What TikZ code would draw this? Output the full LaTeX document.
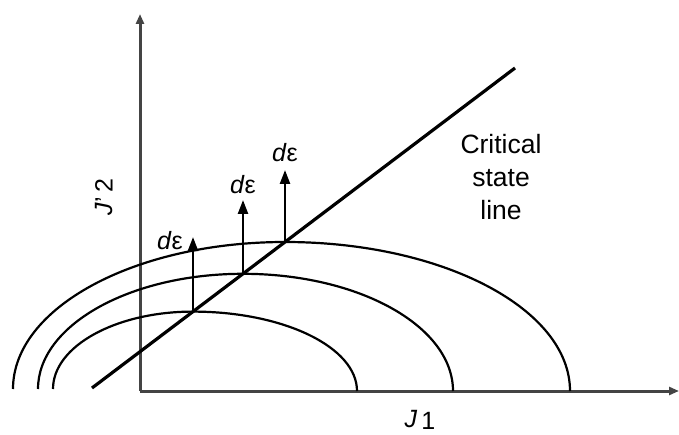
\documentclass[tikz,border=0pt]{standalone}
\usepackage{fontspec}
\setmainfont{Liberation Sans}
\usetikzlibrary{arrows.meta}
\definecolor{axisgray}{HTML}{444444}
\tikzset{
  axisline/.style={draw=axisgray, line width=3pt, -{Triangle[length=10pt,width=8pt]}},
  cslline/.style={draw=black, line width=3.2pt},
  yieldarc/.style={draw=black, line width=2.2pt},
  flowarrow/.style={draw=black, line width=2.4pt, -{Triangle[length=14pt,width=10pt]}},
  smalllabel/.style={font=\fontsize{25}{30}\selectfont, inner sep=0pt},
  biglabel/.style={font=\fontsize{26.5}{33}\selectfont, align=center, inner sep=0pt}
}
\begin{document}
\begin{tikzpicture}[x=1pt,y=1pt]
\useasboundingbox (0,0) rectangle (679,434);
% axes
\coordinate (O) at (140,43);
\coordinate (ytop) at (140,420);
\coordinate (xend) at (679,43);
\draw[axisline] (O) -- (ytop);
\draw[axisline] (O) -- (xend);
% yield surfaces
\draw[yieldarc] (53,45) arc[start angle=180, end angle=90, x radius=140, y radius=77.4]
                       arc[start angle=90, end angle=0, x radius=164, y radius=79.4];
\draw[yieldarc] (38,45) arc[start angle=180, end angle=90, x radius=205, y radius=115.2]
                       arc[start angle=90, end angle=0, x radius=210, y radius=117.2];
\draw[yieldarc] (13,45) arc[start angle=180, end angle=90, x radius=272, y radius=147]
                       arc[start angle=90, end angle=0, x radius=285, y radius=149];
% critical state line
\coordinate (c1) at (92,46);
\coordinate (c2) at (515,366);
\draw[cslline] (c1) -- (c2);
% intersection points and arrow tips
\coordinate (p1) at (193,122.4);
\coordinate (p2) at (243,160.2);
\coordinate (p3) at (285,192);
\coordinate (t1) at (193,197);
\coordinate (t2) at (243,234);
\coordinate (t3) at (285,264);
\draw[flowarrow] (p1) -- (t1);
\draw[flowarrow] (p2) -- (t2);
\draw[flowarrow] (p3) -- (t3);
% labels
\node[smalllabel] (de1) at (170,193) {\textit{d}ε};
\node[smalllabel] (de2) at (243,249) {\textit{d}ε};
\node[smalllabel] (de3) at (285,281) {\textit{d}ε};
\node[biglabel] (csl) at (501,257) {Critical\\state\\line};
\node[smalllabel, rotate=90] (ylab) at (104,237) {\textit{J}’\,2};
\node[smalllabel, anchor=south] (xlab) at (420,4) {\textit{J}\,\raisebox{-0.15ex}{1}};
\end{tikzpicture}
\end{document}
